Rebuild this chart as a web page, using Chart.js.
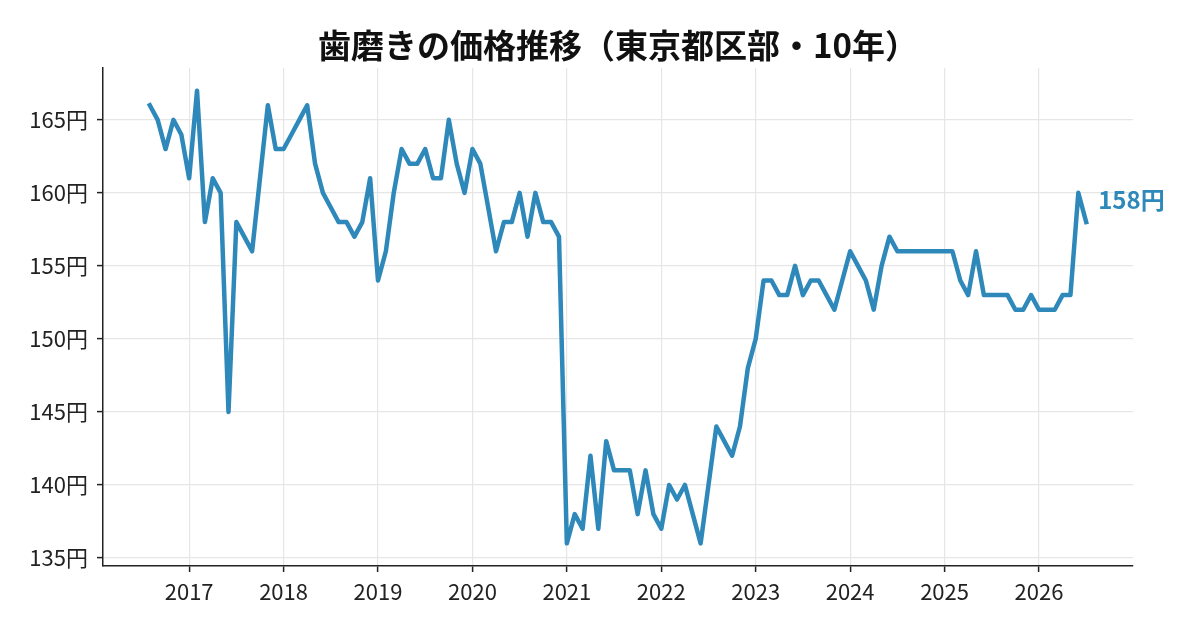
<!DOCTYPE html>
<html lang="ja">
<head>
<meta charset="utf-8">
<title>歯磨きの価格推移</title>
<style>
  html, body { margin: 0; padding: 0; background: #fff; }
</style>
<script src="https://cdn.jsdelivr.net/npm/chart.js@4/dist/chart.umd.min.js"></script>
</head>
<body>
<canvas id="myChart" width="1200" height="630"></canvas>
<script>
const chartTitle = '歯磨きの価格推移（東京都区部・10年）'
const yearTicks = [2017, 2018, 2019, 2020, 2021, 2022, 2023, 2024, 2025, 2026]
const priceTicks = [135, 140, 145, 150, 155, 160, 165]

// monthly prices (yen), series starts Aug 2016
const firstYear = 2016
const firstMonth = 8
const prices2016 = [166, 165, 163, 165, 164]
const prices2017 = [161, 167, 158, 161, 160, 145, 158, 157, 156, 161, 166, 163]
const prices2018 = [163, 164, 165, 166, 162, 160, 159, 158, 158, 157, 158, 161]
const prices2019 = [154, 156, 160, 163, 162, 162, 163, 161, 161, 165, 162, 160]
const prices2020 = [163, 162, 159, 156, 158, 158, 160, 157, 160, 158, 158, 157]
const prices2021 = [136, 138, 137, 142, 137, 143, 141, 141, 141, 138, 141, 138]
const prices2022 = [137, 140, 139, 140, 138, 136, 140, 144, 143, 142, 144, 148]
const prices2023 = [150, 154, 154, 153, 153, 155, 153, 154, 154, 153, 152, 154]
const prices2024 = [156, 155, 154, 152, 155, 157, 156, 156, 156, 156, 156, 156]
const prices2025 = [156, 156, 154, 153, 156, 153, 153, 153, 153, 152, 152, 153]
const prices2026 = [152, 152, 152, 153, 153, 160, 158]

const lineColor = '#2e89ba'
const fontFamily = '"Noto Sans CJK JP", "Noto Sans", sans-serif'

const prices = [].concat(prices2016, prices2017, prices2018, prices2019, prices2020,
  prices2021, prices2022, prices2023, prices2024, prices2025, prices2026)

// x as decimal year (first day of each month)
const points = prices.map((v, i) => {
  const m = firstMonth - 1 + i
  return { x: firstYear + Math.floor(m / 12) + (m % 12) / 12, y: v }
})

const xFirst = points[0].x
const xLast = points[points.length - 1].x
const xPad = (xLast - xFirst) * 0.05
const yMin = Math.min(...prices)
const yMax = Math.max(...prices)
const yPad = (yMax - yMin) * 0.05

// title centred over the plot area, like an axes title
const plotTitle = {
  id: 'plotTitle',
  afterDraw(chart) {
    const area = chart.chartArea
    const ctx = chart.ctx
    ctx.save()
    ctx.font = 'bold 33px ' + fontFamily
    ctx.fillStyle = '#111'
    ctx.textAlign = 'center'
    ctx.textBaseline = 'middle'
    ctx.fillText(chartTitle, (area.left + area.right) / 2, 45)
    ctx.restore()
  },
}

const endLabel = {
  id: 'endLabel',
  afterDatasetsDraw(chart) {
    const meta = chart.getDatasetMeta(0)
    const pt = meta.data[meta.data.length - 1]
    const ctx = chart.ctx
    ctx.save()
    ctx.font = 'bold 24px ' + fontFamily
    ctx.fillStyle = lineColor
    ctx.textAlign = 'left'
    ctx.textBaseline = 'middle'
    ctx.fillText(prices[prices.length - 1] + '円', pt.x + 12, pt.y - 22)
    ctx.restore()
  },
}

const data = {
  datasets: [
    {
      label: '歯磨き',
      data: points,
      borderColor: lineColor,
      borderWidth: 4.5,
      borderJoinStyle: 'round',
      borderCapStyle: 'square',
      pointRadius: 0,
      tension: 0,
      fill: false,
    },
  ],
}

const config = {
  type: 'line',
  data: data,
  options: {
    responsive: false,
    animation: false,
    devicePixelRatio: 1,
    layout: { padding: { left: 0, right: 67, top: 68, bottom: 0 } },
    plugins: {
      legend: { display: false },
      tooltip: { enabled: false },
      title: { display: false },
    },
    scales: {
      x: {
        type: 'linear',
        min: xFirst - xPad,
        max: xLast + xPad,
        afterBuildTicks: (scale) => {
          scale.ticks = yearTicks.map((v) => ({ value: v }))
        },
        afterFit: (scale) => {
          scale.height = 64
        },
        ticks: {
          color: '#222',
          padding: 6,
          maxRotation: 0,
          font: { family: fontFamily, size: 22 },
          callback: (v) => String(v),
        },
        grid: {
          color: '#e6e6e6',
          lineWidth: 1.2,
          tickLength: 6,
          tickColor: '#222',
          tickWidth: 1.5,
        },
        border: { display: true, color: '#222', width: 1.5 },
      },
      y: {
        min: yMin - yPad,
        max: yMax + yPad,
        afterBuildTicks: (scale) => {
          scale.ticks = priceTicks.map((v) => ({ value: v }))
        },
        afterFit: (scale) => {
          scale.width = 103
        },
        ticks: {
          color: '#222',
          padding: 9,
          font: { family: fontFamily, size: 22 },
          callback: (v) => v + '円',
        },
        grid: {
          color: '#e6e6e6',
          lineWidth: 1.2,
          tickLength: 6,
          tickColor: '#222',
          tickWidth: 1.5,
        },
        border: { display: true, color: '#222', width: 1.5 },
      },
    },
  },
  plugins: [plotTitle, endLabel],
}

const myChart = new Chart(document.getElementById('myChart'), config)
</script>
</body>
</html>
